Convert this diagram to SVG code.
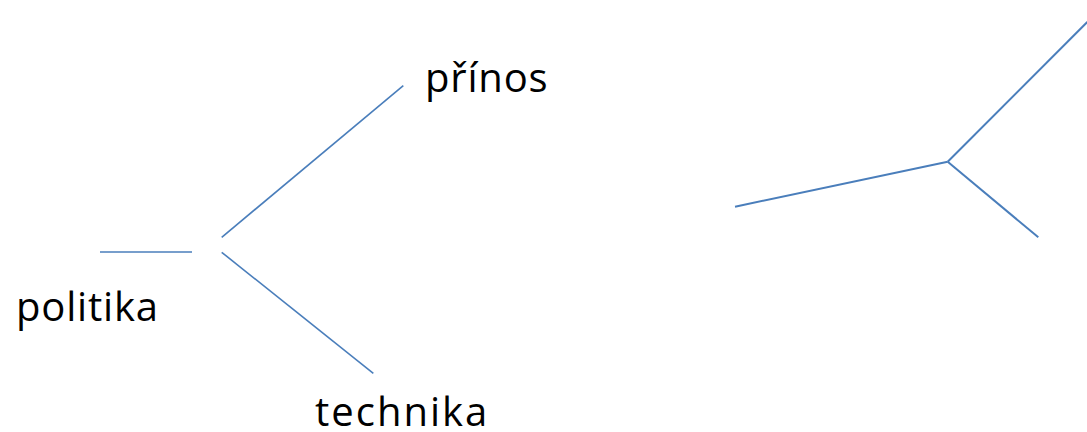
<svg xmlns="http://www.w3.org/2000/svg" width="1087" height="432" viewBox="0 0 1087 432">
<style>
.lbl{font-family:"Open Sans","Noto Sans",sans-serif;font-size:40px;fill:#000;letter-spacing:0.8px}
.wide{letter-spacing:2px}
.ln{stroke:#4A7EBB;stroke-width:1.6;fill:none}
.ln2{stroke:#4A7EBB;stroke-width:2;fill:none}
</style>
<rect width="1087" height="432" fill="#fff"/>
<g id="connectors">
<line class="ln" x1="100" y1="252" x2="192" y2="252"/>
<line class="ln" x1="221.7" y1="237.3" x2="403.3" y2="85.7"/>
<line class="ln" x1="221.7" y1="252.3" x2="373.3" y2="373.3"/>
<line class="ln2" x1="735" y1="206.7" x2="947.7" y2="161.7"/>
<line class="ln2" x1="947.7" y1="161.7" x2="1087.5" y2="21.8"/>
<line class="ln2" x1="947.7" y1="161.7" x2="1038.3" y2="237.3"/>
</g>
<g id="node-politika"><text class="lbl" x="16" y="321">politika</text></g>
<g id="node-prinos"><text class="lbl" x="425" y="92">přínos</text></g>
<g id="node-technika"><text class="lbl wide" x="315" y="426">technika</text></g>
</svg>
